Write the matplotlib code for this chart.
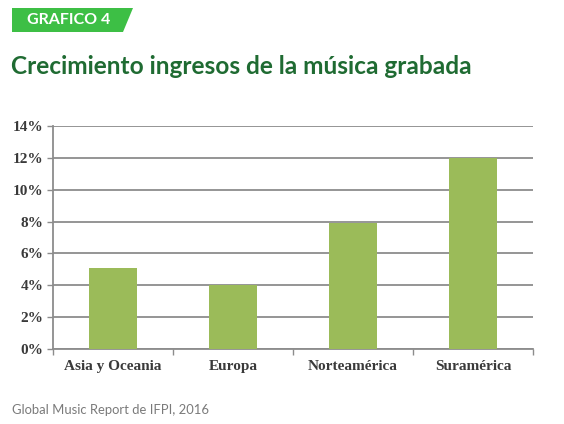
import matplotlib
matplotlib.use("Agg")
import matplotlib.pyplot as plt
from matplotlib.patches import Polygon
from matplotlib.ticker import FuncFormatter

regions = ["Asia y Oceania", "Europa", "Norteamérica", "Suramérica"]
growth = [5.1, 4.0, 7.9, 12.0]
y_ticks = [0, 2, 4, 6, 8, 10, 12, 14]

BAR_GREEN = "#9BBB59"
TITLE_GREEN = "#1F6B32"
BADGE_GREEN = "#3DBF45"
GRID = "#8C8C8C"

W, H = 564, 424
fig = plt.figure(figsize=(W / 100, H / 100), dpi=100)
fig.patch.set_facecolor("white")

# header badge with slanted right edge
badge = Polygon([(12 / W, 1 - 8 / H), (133 / W, 1 - 8 / H),
                 (123 / W, 1 - 32 / H), (12 / W, 1 - 32 / H)],
                closed=True, transform=fig.transFigure,
                facecolor=BADGE_GREEN, edgecolor="none")
fig.patches.append(badge)
fig.text(27 / W, 1 - 20 / H, "GRAFICO 4", color="white", fontsize=11.5,
         fontweight="bold", family="Lato", va="center", ha="left")

fig.text(11 / W, 1 - 66 / H, "Crecimiento ingresos de la música grabada",
         color=TITLE_GREEN, fontsize=17.6, fontweight="bold", family="Lato",
         va="center", ha="left")

ax = fig.add_axes([53 / W, 1 - 349 / H, 480 / W, 223 / H])
x = range(len(regions))
ax.bar(x, growth, width=0.4, color=BAR_GREEN, zorder=3)

ax.set_xlim(-0.5, len(regions) - 0.5)
ax.set_ylim(0, 14)
ax.set_yticks(y_ticks)
ax.yaxis.set_major_formatter(FuncFormatter(lambda v, _: f"{v:.0f}%"))
ax.set_xticks(list(x))
ax.set_xticklabels(regions)
ax.set_xticks([i - 0.5 for i in range(len(regions) + 1)], minor=True)

ax.grid(axis="y", color=GRID, linewidth=1.3, zorder=0)
for side in ["top", "right"]:
    ax.spines[side].set_visible(False)
for side in ["left", "bottom"]:
    ax.spines[side].set_color(GRID)
    ax.spines[side].set_linewidth(1.3)

ax.tick_params(axis="x", which="major", length=0, pad=8)
ax.tick_params(axis="x", which="minor", length=4, color=GRID, width=1)
ax.tick_params(axis="y", length=4, color=GRID, width=1, pad=3)
for lab in ax.get_xticklabels() + ax.get_yticklabels():
    lab.set_family("Liberation Serif")
    lab.set_fontweight("bold")
    lab.set_fontsize(11)
    lab.set_color("#3A3A3A")

fig.text(12 / W, 1 - 410 / H, "Global Music Report de IFPI, 2016",
         color="#7A7A7A", fontsize=9.4, family="Lato", va="center", ha="left")

fig.savefig("out.png", dpi=100)
